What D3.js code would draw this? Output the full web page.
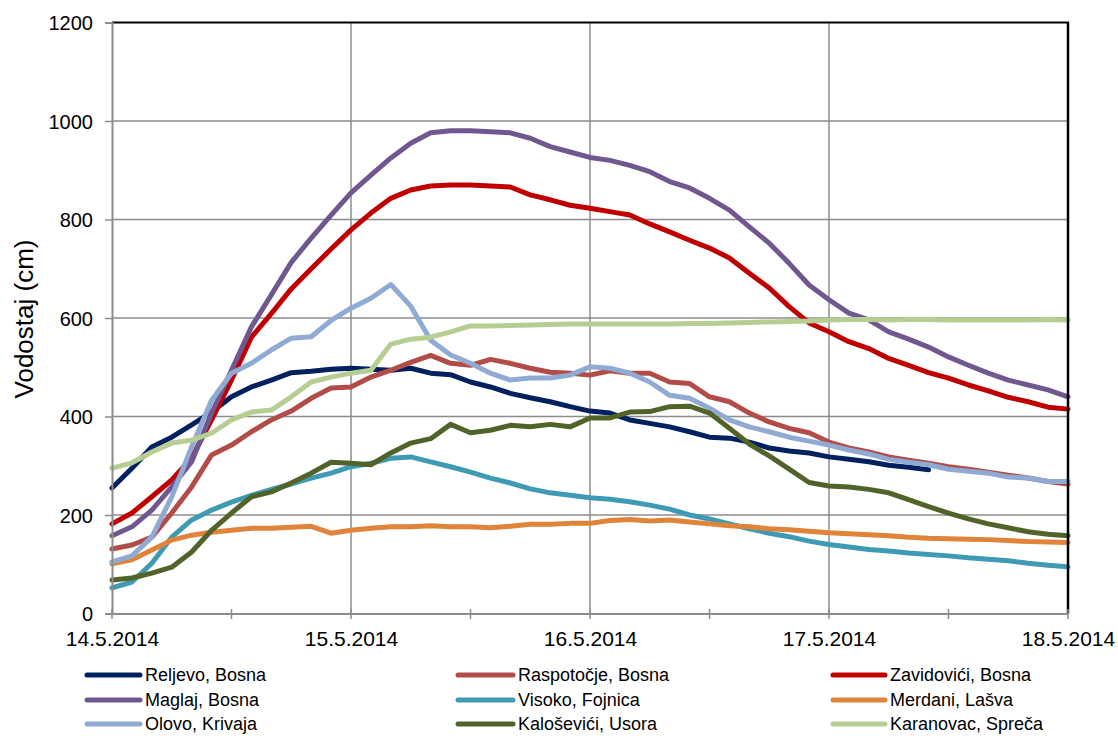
<!DOCTYPE html>
<html><head><meta charset="utf-8">
<script src="https://cdn.jsdelivr.net/npm/d3@7"></script>
<style>body{margin:0;background:#fff}svg{display:block}</style>
</head><body><svg id="c" width="1118" height="736"></svg>
<script>
// Hours since 14.5.2014 00:00
const hours = [0,2,4,6,8,10,12,14,16,18,20,22,24,26,28,30,32,34,36,38,40,42,44,46,48,50,52,54,56,58,60,62,64,66,68,70,72,74,76,78,80,82,84,86,88,90,92,94,96];
const xTickHours = [0,24,48,72,96];
const xTickLabels = ["14.5.2014","15.5.2014","16.5.2014","17.5.2014","18.5.2014"];
const minorTickHours = [0,12,24,36,48,60,72,84,96];
const yTicks = [0,200,400,600,800,1000,1200];
const yTitle = "Vodostaj (cm)";

const seriesNames = ["Reljevo, Bosna","Raspotočje, Bosna","Zavidovići, Bosna","Maglaj, Bosna","Visoko, Fojnica","Merdani, Lašva","Olovo, Krivaja","Kaloševići, Usora","Karanovac, Spreča"];
const seriesColors = ["#002060","#B24C48","#C00000","#70578F","#3E9BB3","#E0843A","#8FAAD3","#516329","#B7CE92"];

const reljevo = [255,295,338,358,383,409,440,460,474,489,492,496,498,496,494,498,488,485,470,460,447,438,430,420,411,407,393,386,379,369,358,356,348,336,330,326,318,313,308,301,297,292,null,null,null,null,null,null,null];
const raspotocje = [131,139,155,204,257,322,342,369,393,411,437,458,460,480,494,510,524,508,504,516,508,498,490,488,484,493,488,488,470,467,440,430,407,389,376,367,348,336,328,318,311,305,298,293,287,281,275,268,263];
const zavidovici = [182,204,237,271,316,393,474,561,609,659,700,740,779,813,843,860,868,870,870,868,866,850,840,829,823,816,809,791,775,758,742,722,691,661,623,590,572,552,538,518,504,489,478,464,452,439,430,419,415];
const maglaj = [158,176,210,257,308,407,494,582,647,713,762,809,854,890,925,955,976,980,980,978,976,965,948,937,926,920,910,897,877,864,843,819,785,752,711,667,637,610,596,572,557,541,521,504,488,474,464,454,440];
const visoko = [52,64,102,155,190,210,226,240,252,263,275,285,298,305,315,318,308,298,287,275,265,253,245,240,235,232,227,220,212,200,192,182,172,163,156,147,140,135,130,127,123,120,117,113,110,107,102,98,95];
const merdani = [101,109,129,149,159,165,169,173,173,175,177,163,169,173,176,176,178,176,176,174,177,181,181,183,183,189,191,188,190,186,182,178,176,172,170,167,164,162,160,158,155,153,152,151,150,148,146,145,144];
const olovo = [105,117,155,237,338,433,488,508,535,559,562,595,620,640,668,624,555,525,508,488,474,478,478,484,501,498,488,470,443,437,417,393,379,369,358,350,342,332,324,313,307,302,293,289,285,277,275,268,268];
const kalosevici = [68,72,82,94,125,169,204,237,247,265,285,307,305,302,326,346,355,384,367,372,382,379,384,379,397,397,409,410,420,421,407,376,344,320,293,266,259,257,252,245,231,217,204,192,182,174,166,161,158];
const karanovac = [295,306,328,346,352,366,393,409,413,440,470,480,488,494,547,557,561,572,584,584,585,586,587,588,588,588,588,588,588,589,589,590,591,592,593,594,596,597,597,596,597,597,596,596,596,596,596,597,596];

const seriesValues = [reljevo,raspotocje,zavidovici,maglaj,visoko,merdani,olovo,kalosevici,karanovac];

const FONT = "'Liberation Sans', Arial, sans-serif";
const svg = d3.select("#c");
svg.append("rect").attr("width",1118).attr("height",736).attr("fill","#fff");

const x = d3.scaleLinear().domain([0,96]).range([112,1068]);
const y = d3.scaleLinear().domain([0,1200]).range([613.5,22.5]);
const GRID = "#8c8c8c";

// gridlines
svg.append("g").selectAll("line").data(yTicks.filter(v=>v>0&&v<1200)).join("line")
  .attr("x1",x(0)).attr("x2",x(96)).attr("y1",d=>y(d)).attr("y2",d=>y(d))
  .attr("stroke",GRID).attr("stroke-width",1.5);
svg.append("g").selectAll("line").data(xTickHours.filter(h=>h>0&&h<96)).join("line")
  .attr("x1",d=>x(d)).attr("x2",d=>x(d)).attr("y1",y(0)).attr("y2",y(1200))
  .attr("stroke",GRID).attr("stroke-width",1.5);

// series
const line = d3.line().defined(d=>d[1]!=null).x(d=>x(d[0])).y(d=>y(d[1]));
seriesValues.forEach((vals,i)=>{
  svg.append("path").datum(hours.map((h,j)=>[h,vals[j]]))
    .attr("d",line).attr("fill","none").attr("stroke",seriesColors[i])
    .attr("stroke-width",5).attr("stroke-linejoin","round").attr("stroke-linecap","round");
});

// plot border (top/right black)
svg.append("line").attr("x1",x(0)).attr("x2",x(96)+1).attr("y1",y(1200)).attr("y2",y(1200)).attr("stroke","#000").attr("stroke-width",2);
svg.append("line").attr("x1",x(96)).attr("x2",x(96)).attr("y1",y(1200)).attr("y2",y(0)).attr("stroke","#000").attr("stroke-width",2.5);

// y axis
const yAxis = svg.append("g").attr("transform",`translate(${x(0)},0)`)
  .call(d3.axisLeft(y).tickValues(yTicks).tickSize(7).tickPadding(12).tickFormat(d=>String(d)));
yAxis.select(".domain").attr("stroke",GRID).attr("stroke-width",2);
yAxis.selectAll(".tick line").attr("stroke",GRID).attr("stroke-width",1.5);
yAxis.selectAll("text").attr("font-family",FONT).attr("font-size",20).attr("fill","#000").attr("dy","0.36em");

// x axis
const xAxis = svg.append("g").attr("transform",`translate(0,${y(0)})`)
  .call(d3.axisBottom(x).tickValues(xTickHours).tickSize(0).tickFormat((d,i)=>xTickLabels[i]));
xAxis.select(".domain").attr("stroke",GRID).attr("stroke-width",2);
xAxis.selectAll("text").attr("font-family",FONT).attr("font-size",21).attr("fill","#000").attr("y",32.5).attr("dy","0");
svg.append("g").selectAll("line").data(minorTickHours).join("line")
  .attr("x1",d=>x(d)).attr("x2",d=>x(d)).attr("y1",y(0)-4.5).attr("y2",y(0)+5.5)
  .attr("stroke",GRID).attr("stroke-width",1.5);

// y title
svg.append("text").attr("transform","translate(33,319) rotate(-90)")
  .attr("text-anchor","middle").attr("font-family",FONT).attr("font-size",26).attr("fill","#000").text(yTitle);

// legend
const legX1 = [87,458,833], legX2 = [140,513,885], legTX = [145,518,890], legY = [675,700,724];
const leg = svg.append("g");
seriesNames.forEach((name,i)=>{
  const c = i%3, r = Math.floor(i/3);
  leg.append("line").attr("x1",legX1[c]).attr("x2",legX2[c]).attr("y1",legY[r]).attr("y2",legY[r])
    .attr("stroke",seriesColors[i]).attr("stroke-width",5).attr("stroke-linecap","round");
  leg.append("text").attr("x",legTX[c]).attr("y",legY[r]).attr("dy","0.35em")
    .attr("font-family",FONT).attr("font-size",18).attr("fill","#000").text(name);
});
</script></body></html>
